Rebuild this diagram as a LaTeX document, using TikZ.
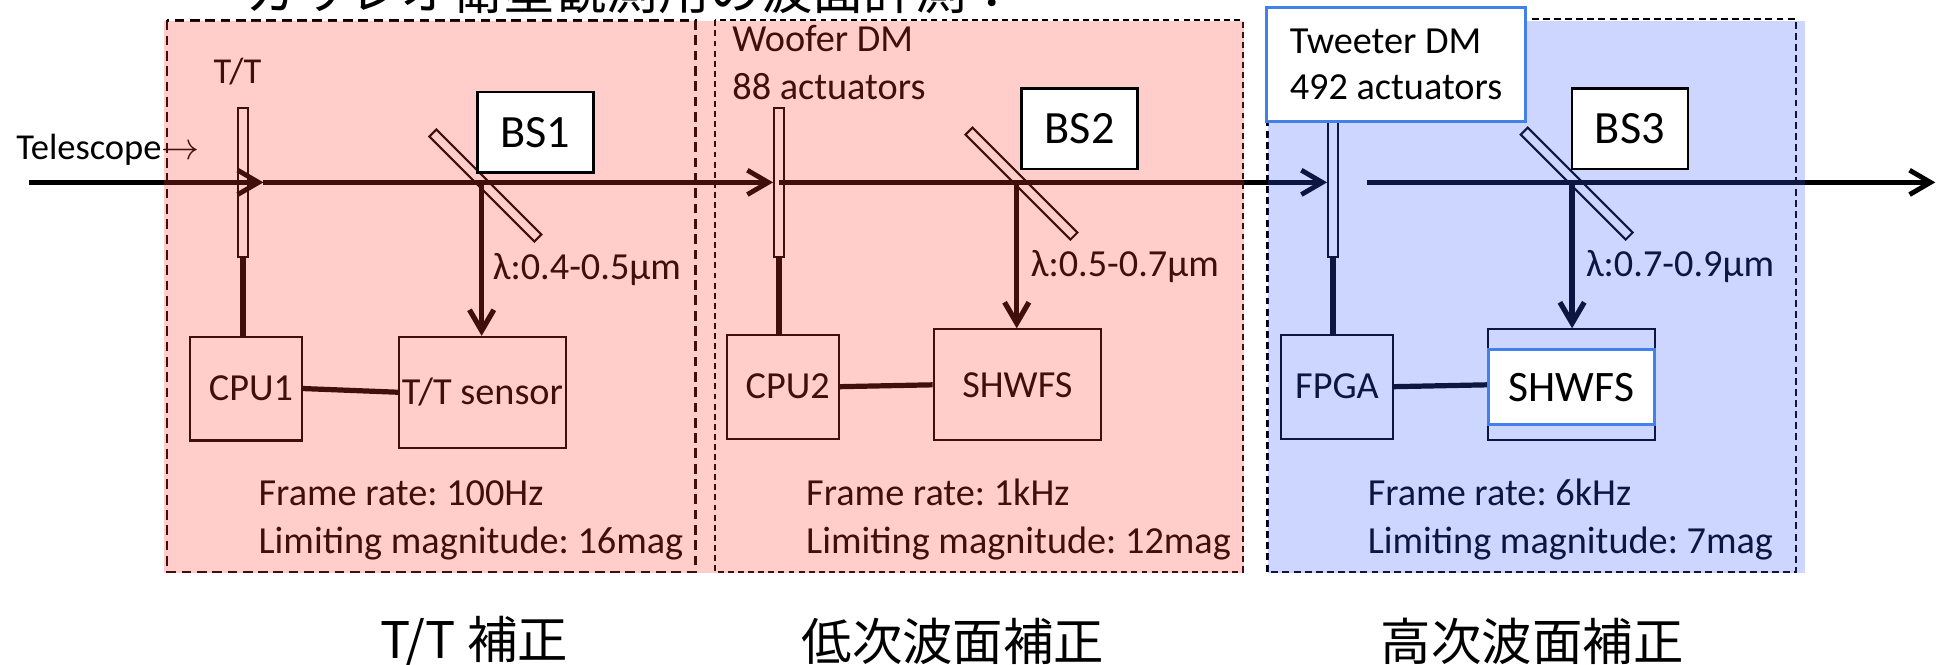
\documentclass[tikz,border=0pt]{standalone}
\usepackage{fontspec}
\setmainfont{Carlito}
\newfontfamily\jpfont{Noto Sans CJK JP}
\usepackage{tikz}
\usetikzlibrary{arrows.meta}
\definecolor{tintred}{RGB}{255, 60, 45}
\definecolor{tintblue}{RGB}{50, 90, 255}
\definecolor{dmblue}{RGB}{68, 128, 236}
\newlength\unitpx
\setlength\unitpx{0.0125cm}
\frenchspacing

\begin{document}
\begin{tikzpicture}[x=0.0125cm, y=-0.0125cm,
    txt/.style={font=\fontsize{11}{13.8}\selectfont, inner sep=0pt},
    box/.style={draw, line width=0.6pt, inner sep=0pt, font=\fontsize{11}{13.8}\selectfont},
    dmplate/.style={draw, line width=0.6pt, inner sep=0pt, minimum width=8\unitpx, minimum height=120\unitpx},
    splitter/.style={draw, line width=0.6pt, inner sep=0pt, minimum width=120\unitpx, minimum height=8\unitpx, rotate=-45},
    bsbox/.style={draw, line width=0.7pt, fill=white, minimum width=94\unitpx, minimum height=65\unitpx, font=\fontsize{13.3}{16}\selectfont},
    wire/.style={line width=1.5pt},
    ray/.style={line width=1.4pt, -{Straight Barb[length=6pt, width=7pt]}},
    stage/.style={font=\jpfont\fontsize{14.5}{16}\selectfont, inner sep=0pt}]
\useasboundingbox (0,0) rectangle (1568,537);
\clip (0,0) rectangle (1568,537);
\node[font=\jpfont\fontsize{14.8}{16}\selectfont, anchor=base west, inner sep=0pt] (title) at (198.6,7.5) {ガリレオ衛星観測用の波面計測：};

\draw[line width=0.8pt, dash pattern=on 2.8pt off 1.6pt] (135,16.5) rectangle (562.3,462.5);
\draw[line width=0.6pt, dash pattern=on 1.7pt off 1.2pt] (578,16.5) rectangle (1005,462.5);
\draw[line width=0.6pt, dash pattern=on 2pt off 1.2pt] (1025,15.6) rectangle (1452.7,462.5);

\node[txt, font=\fontsize{10.5}{12}\selectfont, anchor=west] (scope) at (12.6,121) {Telescope$\rightarrow$};
\node[txt, font=\fontsize{10.5}{12}\selectfont] (ttname) at (192,58) {T/T};
\node[txt, anchor=west, align=left] (woofer) at (591.7,50.4) {Woofer DM\\88 actuators};

\node[dmplate] (ttm) at (196.5,147.5) {};
\node[dmplate] (wdm) at (630,147.5) {};
\node[dmplate] (tdm) at (1078,147.5) {};
\node[splitter] (bsA) at (392.5,150) {};
\node[splitter] (bsB) at (826,148.5) {};
\node[splitter] (bsC) at (1275,148.5) {};

\node[box, minimum width=90\unitpx, minimum height=84\unitpx] (cpuA) at (199,314.2) {\hspace{8\unitpx}CPU1};
\node[box, minimum width=135\unitpx, minimum height=89.5\unitpx] (ttsensor) at (390.1,317.2) {T/T sensor};
\node[box, minimum width=90.7\unitpx, minimum height=84\unitpx] (cpuB) at (633,312.7) {\hspace{8\unitpx}CPU2};
\node[box, minimum width=135.4\unitpx, minimum height=89.7\unitpx] (shwfsA) at (822.7,311.2) {SHWFS};
\node[box, minimum width=90.4\unitpx, minimum height=84\unitpx] (fpga) at (1081.2,312.7) {FPGA};
\node[box, minimum width=134.5\unitpx, minimum height=89.7\unitpx] (shwfsB) at (1270.8,311.2) {};

\draw[wire] (ttm.south) -- (ttm.south |- cpuA.north);
\draw[wire] (wdm.south) -- (wdm.south |- cpuB.north);
\draw[wire] (tdm.south) -- (tdm.south |- fpga.north);
\draw[wire] (cpuA.east) -- (ttsensor.west);
\draw[wire] (cpuB.east) -- (shwfsA.west);
\draw[wire] (fpga.east) -- (shwfsB.west);

\coordinate (src) at (23.5,147.5);
\coordinate (ttout) at (213,147.5);
\coordinate (relay) at (1105.5,147.5);
\coordinate (exit) at (1565,147.5);
\draw[ray] (src) -- (ttout);
\draw[ray] (ttout) -- (wdm.west);
\draw[ray] (wdm.center) -- (tdm.west);
\draw[ray] (relay) -- (exit);

\coordinate (tapA) at (389.5,147.5);
\coordinate (tapB) at (822.2,147.5);
\coordinate (tapC) at (1271.3,147.5);
\draw[ray, line width=1.5pt] (tapA) -- (tapA |- ttsensor.north);
\draw[ray, line width=1.5pt] (tapB) -- (tapB |- shwfsA.north);
\draw[ray, line width=1.5pt] (tapC) -- (tapC |- shwfsB.north);

\node[txt, anchor=west] (bandA) at (398,218) {λ:0.4-0.5μm};
\node[txt, anchor=west] (bandB) at (833,215.4) {λ:0.5-0.7μm};
\node[txt, anchor=west] (bandC) at (1282,215.4) {λ:0.7-0.9μm};

\node[txt, anchor=west, align=left] (infoA) at (208.6,420.5) {Frame rate: 100Hz\\Limiting magnitude: 16mag};
\node[txt, anchor=west, align=left] (infoB) at (651.4,420.5) {Frame rate: 1kHz\\Limiting magnitude: 12mag};
\node[txt, anchor=west, align=left] (infoC) at (1105.5,420.5) {Frame rate: 6kHz\\Limiting magnitude: 7mag};

\fill[tintred, fill opacity=0.25] (133,17) rectangle (1006,463);
\fill[tintblue, fill opacity=0.25] (1025,17) rectangle (1460,463);

\node[bsbox] (bslA) at (433,107) {BS1};
\node[bsbox] (bslB) at (873,104) {BS2};
\node[bsbox] (bslC) at (1318,104) {BS3};
\node[draw=dmblue, line width=0.8pt, fill=white, minimum width=209\unitpx, minimum height=92\unitpx, align=left, font=\fontsize{11}{13.3}\selectfont] (tweeter) at (1128.9,52.1) {Tweeter DM\\492 actuators};
\node[draw=dmblue, line width=0.8pt, fill=white, minimum width=134.5\unitpx, minimum height=60.4\unitpx, font=\fontsize{12.5}{15}\selectfont] (shwfsBin) at (1270.8,313) {SHWFS};

\node[stage] (stageA) at (383.6,519) {T/T 補正};
\node[stage] (stageB) at (770.6,519) {低次波面補正};
\node[stage] (stageC) at (1239,519) {高次波面補正};
\end{tikzpicture}
\end{document}
